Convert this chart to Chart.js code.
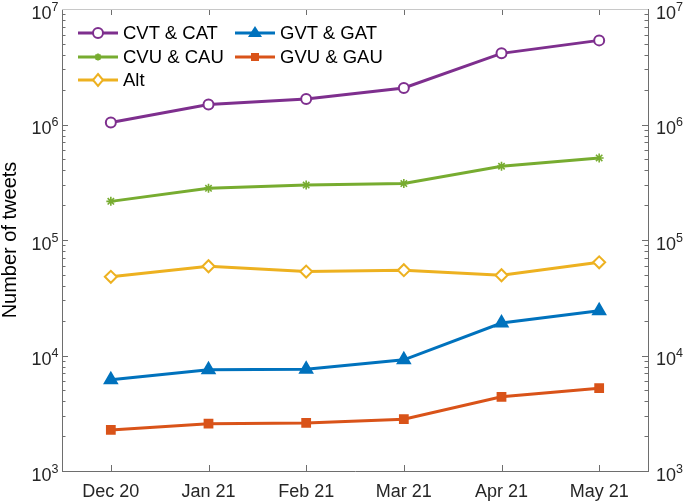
<!DOCTYPE html>
<html>
<head>
<meta charset="utf-8">
<script src="https://cdn.jsdelivr.net/npm/chart.js@4.4.0/dist/chart.umd.min.js"></script>
<style>
  html, body { margin: 0; padding: 0; background: #fff; }
  #wrap { position: relative; width: 685px; height: 501px; }
  #legend { position: absolute; left: 0; top: 0; font-family: "Liberation Sans", Arial, sans-serif; font-size: 18.5px; color: #000; }
  .item { position: absolute; height: 22px; display: flex; align-items: center; white-space: nowrap; }
  .item svg { display: block; margin-right: 5px; }
</style>
</head>
<body>
<div id="wrap">
  <canvas id="c" width="685" height="501"></canvas>
  <div id="legend"></div>
</div>
<script>
// ---- data ----
const categories = ['Dec 20', 'Jan 21', 'Feb 21', 'Mar 21', 'Apr 21', 'May 21'];
const cvtCat = [1.04e6, 1.49e6, 1.66e6, 2.07e6, 4.13e6, 5.35e6];
const cvuCau = [2.16e5, 2.80e5, 2.99e5, 3.08e5, 4.35e5, 5.13e5];
const altVals = [4.80e4, 5.93e4, 5.33e4, 5.48e4, 4.95e4, 6.41e4];
const gvtGat = [6.17e3, 7.52e3, 7.62e3, 9.18e3, 1.91e4, 2.44e4];
const gvuGau = [2.27e3, 2.57e3, 2.61e3, 2.81e3, 4.39e3, 5.21e3];
const yMin = 1e3, yMax = 1e7;
const yExponents = [3, 4, 5, 6, 7];
const seriesNames = ['CVT & CAT', 'CVU & CAU', 'Alt', 'GVT & GAT', 'GVU & GAU'];

// ---- styles ----
const PURPLE = '#7E2F8E', GREEN = '#77AC30', YELLOW = '#EDB120', BLUE = '#0072BD', ORANGE = '#D95319';
const AXIS = '#6e6e6e';
const FONT = '"Liberation Sans", Arial, sans-serif';
Chart.defaults.font.family = FONT;
Chart.defaults.color = '#262626';

const axisPlugin = {
  id: 'matlabAxes',
  afterDraw(chart) {
    const ctx = chart.ctx, a = chart.chartArea, y = chart.scales.y, x = chart.scales.x;
    ctx.save();
    ctx.strokeStyle = AXIS;
    ctx.lineWidth = 1;
    ctx.beginPath();
    for (let d = 3; d <= 6; d++) {
      for (let m = 1; m <= 9; m++) {
        const py = Math.round(y.getPixelForValue(m * Math.pow(10, d))) + 0.5;
        const len = m === 1 ? 6 : 3.5;
        ctx.moveTo(a.left, py); ctx.lineTo(a.left + len, py);
        ctx.moveTo(a.right, py); ctx.lineTo(a.right - len, py);
      }
    }
    const pTop = Math.round(y.getPixelForValue(yMax)) + 0.5;
    ctx.moveTo(a.left, pTop); ctx.lineTo(a.left + 6, pTop);
    ctx.moveTo(a.right, pTop); ctx.lineTo(a.right - 6, pTop);
    categories.forEach((c, i) => {
      const px = Math.round(x.getPixelForValue(i)) + 0.5;
      ctx.moveTo(px, a.bottom); ctx.lineTo(px, a.bottom - 6);
      ctx.moveTo(px, a.top); ctx.lineTo(px, a.top + 6);
    });
    ctx.stroke();
    ctx.strokeStyle = '#c8c8c8';
    ctx.beginPath();
    ctx.moveTo(a.left, Math.round(a.top) + 0.5); ctx.lineTo(a.right, Math.round(a.top) + 0.5);
    ctx.stroke();

    // log tick labels 10^n on both sides
    ctx.fillStyle = '#262626';
    ctx.textBaseline = 'alphabetic';
    yExponents.forEach(e => {
      const py = y.getPixelForValue(Math.pow(10, e));
      const exp = String(e);
      ctx.font = '12.5px ' + FONT;
      const ew = ctx.measureText(exp).width;
      ctx.textAlign = 'right';
      ctx.fillText(exp, a.left - 3.5, py + 1.5);
      ctx.font = '18px ' + FONT;
      ctx.fillText('10', a.left - 3.5 - ew, py + 9.5);
      ctx.textAlign = 'left';
      ctx.fillText('10', a.right + 8, py + 9.5);
      const bw = ctx.measureText('10').width;
      ctx.font = '12.5px ' + FONT;
      ctx.fillText(exp, a.right + 8 + bw, py + 1.5);
    });
    ctx.restore();
  }
};

function ds(label, data, color, style, radius, fill, bw) {
  return {
    label, data,
    borderColor: color, backgroundColor: fill ? color : '#ffffff',
    pointStyle: style, pointRadius: radius, pointHoverRadius: radius,
    pointBorderColor: color, pointBackgroundColor: fill ? color : '#ffffff',
    pointBorderWidth: bw || 2, borderWidth: 3, tension: 0, yAxisID: 'y'
  };
}

new Chart(document.getElementById('c'), {
  type: 'line',
  data: {
    labels: categories,
    datasets: [
      ds(seriesNames[0], cvtCat, PURPLE, 'circle', 5, false),
      ds(seriesNames[1], cvuCau, GREEN, 'star', 4.5, false, 1.6),
      ds(seriesNames[2], altVals, YELLOW, 'rectRot', 6, false),
      ds(seriesNames[3], gvtGat, BLUE, 'triangle', 7, true),
      ds(seriesNames[4], gvuGau, ORANGE, 'rect', 5.5, true)
    ]
  },
  options: {
    responsive: false,
    animation: false,
    layout: { padding: { top: 9, left: 0, right: 0, bottom: 0 } },
    plugins: { legend: { display: false }, tooltip: { enabled: false } },
    scales: {
      x: {
        type: 'category', offset: true,
        grid: { display: false, drawTicks: false },
        border: { display: true, color: AXIS, width: 1 },
        ticks: { font: { size: 18 }, padding: 10, color: '#262626', maxRotation: 0 },
        afterFit(s) { s.height = 30; s.paddingLeft = 0; s.paddingRight = 0; }
      },
      y: {
        type: 'logarithmic', position: 'left', min: yMin, max: yMax,
        grid: { display: false, drawTicks: false },
        border: { display: true, color: AXIS, width: 1 },
        ticks: { display: false },
        title: { display: true, text: 'Number of tweets', color: '#000', font: { size: 20, lineHeight: 1 }, padding: { top: 0, bottom: 0 } },
        afterFit(s) { s.width = 62; s.paddingTop = 0; s.paddingBottom = 0; }
      },
      y2: {
        type: 'logarithmic', position: 'right', min: yMin, max: yMax,
        grid: { display: false, drawTicks: false },
        border: { display: true, color: AXIS, width: 1 },
        ticks: { display: false },
        afterFit(s) { s.width = 37; s.paddingTop = 0; s.paddingBottom = 0; }
      }
    }
  },
  plugins: [axisPlugin]
});

// ---- legend (HTML) ----
function markerSvg(kind, color) {
  let m = '';
  if (kind === 'circle') m = `<circle cx="20" cy="11" r="5" fill="#fff" stroke="${color}" stroke-width="2"/>`;
  else if (kind === 'star') m = `<path d="M16.5 11h7M20 7.5v7M17.5 8.5l5 5M22.5 8.5l-5 5" stroke="${color}" stroke-width="1.8"/>`;
  else if (kind === 'diamond') m = `<polygon points="20,5 25,11 20,17 15,11" fill="#fff" stroke="${color}" stroke-width="2"/>`;
  else if (kind === 'triangle') m = `<polygon points="20,4 27,15 13,15" fill="${color}"/>`;
  else if (kind === 'square') m = `<rect x="16" y="7" width="8" height="8" fill="${color}"/>`;
  return `<svg width="40" height="22" viewBox="0 0 40 22"><line x1="0" y1="11" x2="40" y2="11" stroke="${color}" stroke-width="3"/>${m}</svg>`;
}
const legendItems = [
  { name: seriesNames[0], color: PURPLE, kind: 'circle', left: 78, top: 22 },
  { name: seriesNames[1], color: GREEN, kind: 'star', left: 78, top: 46 },
  { name: seriesNames[2], color: YELLOW, kind: 'diamond', left: 78, top: 69 },
  { name: seriesNames[3], color: BLUE, kind: 'triangle', left: 235, top: 22 },
  { name: seriesNames[4], color: ORANGE, kind: 'square', left: 235, top: 46 }
];
const lg = document.getElementById('legend');
legendItems.forEach(it => {
  const d = document.createElement('div');
  d.className = 'item';
  d.style.left = it.left + 'px';
  d.style.top = it.top + 'px';
  d.innerHTML = markerSvg(it.kind, it.color) + `<span>${it.name}</span>`;
  lg.appendChild(d);
});
</script>
</body>
</html>
